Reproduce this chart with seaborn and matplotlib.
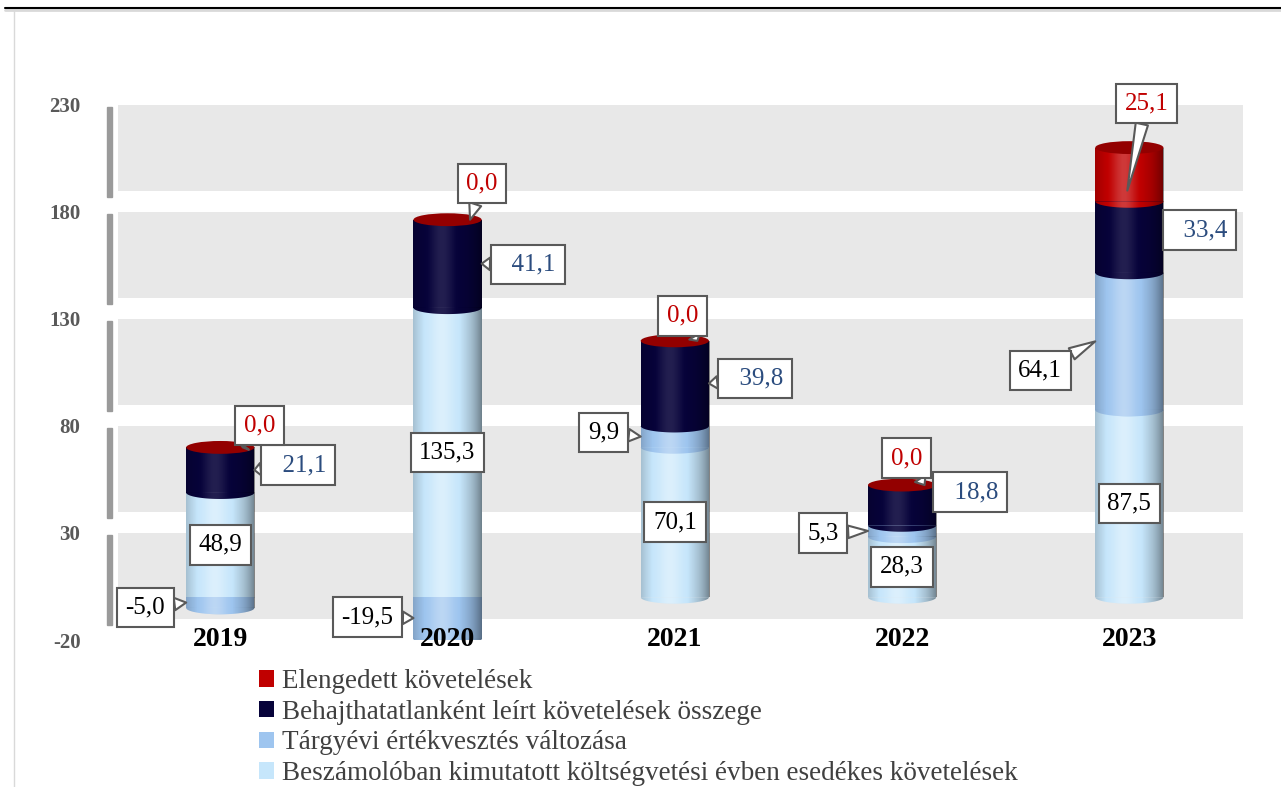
import numpy as np
import matplotlib.pyplot as plt
import seaborn as sns
from matplotlib.patches import Rectangle, Ellipse, Polygon
from matplotlib.lines import Line2D

years = ['2019', '2020', '2021', '2022', '2023']
beszamolo = [48.9, 135.3, 70.1, 28.3, 87.5]
ertekvesztes = [-5.0, -19.5, 9.9, 5.3, 64.1]
behajthatatlan = [21.1, 41.1, 39.8, 18.8, 33.4]
elengedett = [0.0, 0.0, 0.0, 0.0, 25.1]

names = ['Beszámolóban kimutatott költségvetési évben esedékes követelések',
         'Tárgyévi értékvesztés változása',
         'Behajthatatlanként leírt követelések összege',
         'Elengedett követelések']
colors = ['#C6E6FB', '#9EC5EF', '#07033A', '#C00000']
shine = [1.0, 0.8, 0.3, 0.6]
label_colors = ['black', 'black', '#2B4C7E', '#C00000']
yticks = [-20, 30, 80, 130, 180, 230]

# callout box offsets (pixels) from the anchor point on the bar
offsets = {
    1: [(-41, -5), (-46, 1), (-37, 4), (-45, -2), (-55, -29)],
    2: [(44, 5), (46, -1), (46, 5), (34, 13), (36, 7)],
    3: [(17, 22), (12, 36), (-15, 25), (-18, 27), (19, 87)],
}
red_anchor = [(0.33, 1), (0.33, 1), (0.33, 1), (0.33, 1), (-0.03, 0.2)]

sns.set_theme(style='white')
plt.rcParams['font.family'] = ['Liberation Serif', 'DejaVu Serif']

fig = plt.figure(figsize=(12.81, 7.87), dpi=100)
ax = fig.add_axes([118 / 1281, 1 - 640 / 787, 1125 / 1281, 535 / 787])

stack = [beszamolo, ertekvesztes, behajthatatlan, elengedett]
pos = np.zeros(5)
neg = np.zeros(5)
bottoms = []
for vals in stack:
    v = np.array(vals)
    b = np.where(v >= 0, pos, neg)
    bottoms.append(b)
    pos = pos + np.clip(v, 0, None)
    neg = neg + np.clip(v, None, 0)

bw = 0.3
for vals, b, c in zip(stack, bottoms, colors):
    sns.barplot(x=years, y=vals, bottom=b, color=c, width=bw, saturation=1,
                linewidth=0, ax=ax)

# background wall bands
for lo, hi in zip(yticks[:-1], yticks[1:]):
    ax.axhspan(lo + 10, hi, color='#E8E8E8', zorder=0, lw=0)
    ax.add_patch(Rectangle((-0.0098, lo + 7), 0.0045, hi - lo - 8,
                           transform=ax.get_yaxis_transform(), color='#9A9A9A',
                           clip_on=False, zorder=0))

t = np.linspace(0, 1, 200)


def grad_img(k):
    s = 0.38 * k * np.exp(-((t - 0.42) / 0.17) ** 2) - 0.45 * np.abs((t - 0.42) / 0.58) ** 3
    img = np.zeros((1, t.size, 4))
    img[0, :, :3] = np.where(s > 0, 1.0, 0.0)[:, None]
    img[0, :, 3] = np.abs(s)
    return img


def shade(clip, x0, x1, y0, y1, k, z):
    im = ax.imshow(grad_img(k), extent=[x0, x1, y0, y1], aspect='auto',
                   zorder=z, interpolation='bilinear')
    im.set_clip_path(clip)


eh = 6.0
for i in range(5):
    segs = [(bottoms[s][i], s) for s in range(4) if stack[s][i] != 0]
    segs.sort()
    for rank, (b, s) in enumerate(segs):
        p = ax.containers[s][i]
        z = 2 + rank * 0.1
        p.set_zorder(z)
        x0 = p.get_x()
        w = p.get_width()
        xc = x0 + w / 2
        y0, y1 = p.get_y(), p.get_y() + p.get_height()
        shade(p, x0, x0 + w, min(y0, y1), max(y0, y1), shine[s], z + 0.02)
        a = np.linspace(np.pi, 2 * np.pi, 60)
        pts = np.column_stack([xc + w / 2 * np.cos(a), min(y0, y1) + eh / 2 * np.sin(a)])
        arc = Polygon(pts, closed=True, fc=colors[s], lw=0, zorder=z + 0.01)
        ax.add_patch(arc)
        shade(arc, x0, x0 + w, min(y0, y1) - eh / 2, min(y0, y1), shine[s], z + 0.03)
    ax.add_patch(Ellipse((i, pos[i]), bw, eh, fc='#930000', lw=0, zorder=3))

box = dict(boxstyle='square,pad=0.35', fc='white', ec='#595959', lw=1.5)
arrow = dict(arrowstyle='wedge,tail_width=0.5,shrink_factor=0.5', fc='white',
             ec='#595959', lw=1.5, shrinkA=0, shrinkB=0)
for s in range(4):
    for i in range(5):
        v = stack[s][i]
        txt = f'{v:.1f}'.replace('.', ',')
        b = bottoms[s][i]
        if s == 0:
            ax.text(i, b + v / 2, txt, ha='center', va='center', fontsize=18,
                    color=label_colors[s], bbox=box, zorder=10)
            continue
        if s == 1:
            xy = (i - bw / 2, b + v / 2)
        elif s == 2:
            xy = (i + bw / 2, b + v / 2)
            txt = '  ' + txt
        else:
            fx, fy = red_anchor[i]
            xy = (i + fx * bw, b + fy * v)
        ax.annotate(txt, xy=xy, xytext=offsets[s][i], textcoords='offset pixels',
                    ha='center', va='center', fontsize=18, color=label_colors[s],
                    bbox=box, arrowprops=arrow, zorder=10)

ax.set_xlim(-0.45, 4.5)
ax.set_ylim(-20, 230)
ax.set_yticks(yticks)
ax.set_yticklabels([str(v) for v in yticks], fontsize=15, fontweight='bold', color='#595959')
ax.tick_params(axis='y', length=0, pad=27)
ax.set_xticks(range(5))
ax.set_xticklabels(years, fontsize=20, fontweight='bold', color='black')
plt.setp(ax.get_xticklabels(), va='center')
ax.tick_params(axis='x', length=0, pad=0)
ax.xaxis.set_zorder(10)
ax.set_xlabel('')
ax.set_ylabel('')
for sp in ax.spines.values():
    sp.set_visible(False)

handles = [Rectangle((0, 0), 1, 1, fc=c, lw=0) for c in colors[::-1]]
ax.legend(handles, names[::-1], loc='upper left', bbox_to_anchor=(259 / 1281, 1 - 669 / 787),
          bbox_transform=fig.transFigure, frameon=False, fontsize=19.5,
          handlelength=0.55, handleheight=0.55, handletextpad=0.3, labelspacing=0.21,
          borderaxespad=0, borderpad=0, labelcolor='#404040')

fig.add_artist(Line2D([5 / 1281, 1], [1 - 10 / 787] * 2, color='#D9D9D9', lw=2))
fig.add_artist(Line2D([5 / 1281, 1], [1 - 8 / 787] * 2, color='black', lw=1.5))
fig.add_artist(Line2D([14 / 1281] * 2, [0, 1 - 10 / 787], color='#D9D9D9', lw=1))

fig.savefig('out.png', dpi=100)
